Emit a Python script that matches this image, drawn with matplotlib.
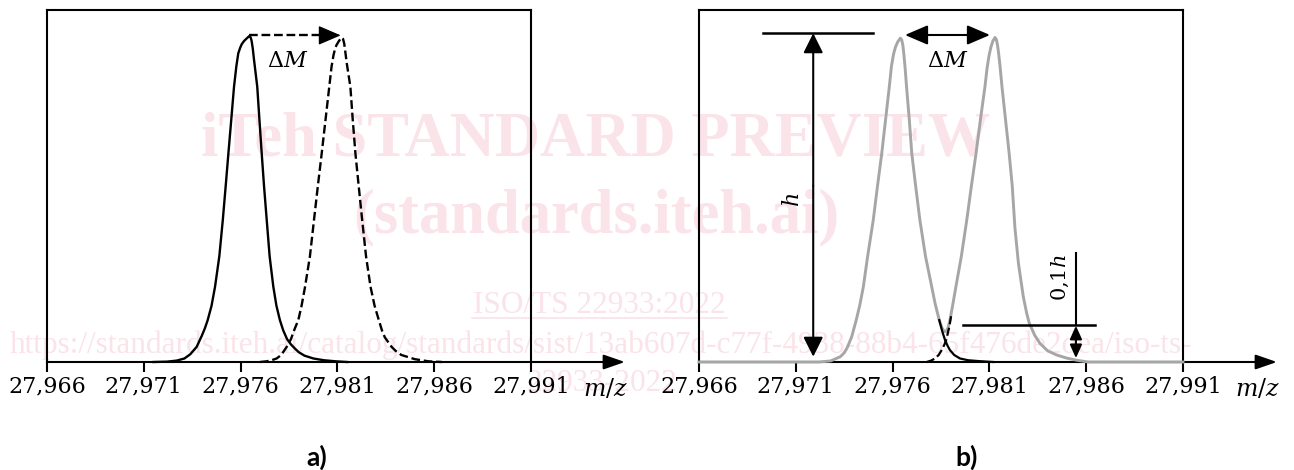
import numpy as np
import matplotlib.pyplot as plt

plt.rcParams['mathtext.fontset'] = 'dejavuserif'
plt.rcParams['font.family'] = 'DejaVu Serif'

# axis ticks
tick_vals = [27.966, 27.971, 27.976, 27.981, 27.986, 27.991]
tick_labels = ['27,966', '27,971', '27,976', '27,981', '27,986', '27,991']

# panel a) - first peak (solid)
mz_a1 = [27.9715, 27.9722, 27.9727, 27.9731, 27.9734, 27.97373, 27.9740, 27.97415,
         27.9743, 27.9745, 27.97468, 27.9749, 27.97508, 27.97523, 27.97537, 27.97552,
         27.97566, 27.97578, 27.97588, 27.97598, 27.97606, 27.97618, 27.97631, 27.97645,
         27.97652, 27.97657, 27.97663, 27.97669, 27.97686, 27.97697, 27.97709, 27.97721,
         27.97735, 27.9775, 27.97769, 27.97785, 27.97803, 27.9782, 27.9784, 27.9786,
         27.97881, 27.979, 27.9793, 27.97976, 27.9803, 27.9809, 27.9815]
int_a1 = [0.0, 0.001, 0.004, 0.01, 0.022, 0.043, 0.075, 0.095,
          0.119, 0.16, 0.214, 0.30, 0.403, 0.50, 0.593, 0.69,
          0.782, 0.84, 0.877, 0.893, 0.903, 0.912, 0.919, 0.926,
          0.922, 0.912, 0.89, 0.86, 0.782, 0.69, 0.593, 0.50,
          0.403, 0.30, 0.214, 0.16, 0.119, 0.09, 0.065, 0.05,
          0.038, 0.028, 0.018, 0.01, 0.005, 0.002, 0.0]

# panel a) - second peak (dashed)
mz_a2 = [27.9770, 27.97735, 27.9776, 27.97786, 27.9781, 27.97838, 27.9786, 27.9788,
         27.97898, 27.97915, 27.97933, 27.97958, 27.97979, 27.97999, 27.98019, 27.98039,
         27.98058, 27.9807, 27.9808, 27.98088, 27.98095, 27.98108, 27.98122, 27.98129,
         27.98135, 27.9814, 27.98148, 27.98167, 27.98179, 27.98193, 27.9821, 27.98228,
         27.98248, 27.98271, 27.98292, 27.98314, 27.9833, 27.98345, 27.9838, 27.984,
         27.9843, 27.9850, 27.9857, 27.9864]
int_a2 = [0.0, 0.002, 0.005, 0.01, 0.02, 0.043, 0.065, 0.095,
          0.119, 0.16, 0.214, 0.30, 0.403, 0.50, 0.593, 0.69,
          0.782, 0.84, 0.872, 0.89, 0.90, 0.912, 0.922, 0.918,
          0.905, 0.885, 0.85, 0.782, 0.69, 0.593, 0.50, 0.403,
          0.30, 0.214, 0.16, 0.119, 0.09, 0.07, 0.043, 0.032,
          0.02, 0.008, 0.002, 0.0]

# panel b) - measured envelope (grey)
mz_b = [27.9660, 27.9722, 27.9728, 27.9733, 27.9735, 27.97365, 27.97389, 27.97412,
        27.9743, 27.97449, 27.97471, 27.9750, 27.97522, 27.97544, 27.97564, 27.97583,
        27.97594, 27.97605, 27.97615, 27.97627, 27.9764, 27.97647, 27.97653, 27.97658,
        27.97664, 27.97672, 27.97686, 27.97699, 27.97719, 27.97741, 27.9777, 27.97802,
        27.9782, 27.97841, 27.97855, 27.97865, 27.97871, 27.97877, 27.97886, 27.97896,
        27.9791, 27.97927, 27.97955, 27.97983, 27.98007, 27.98031, 27.98054, 27.98077,
        27.98088, 27.98098, 27.98108, 27.98118, 27.98129, 27.98136, 27.98142, 27.98148,
        27.98155, 27.98165, 27.98183, 27.98202, 27.98218, 27.98232, 27.9825, 27.98275,
        27.98292, 27.98306, 27.98335, 27.98361, 27.984, 27.98447, 27.985, 27.98551,
        27.9861, 27.9910]
int_b = [0.0, 0.0, 0.003, 0.015, 0.026, 0.04, 0.072, 0.119,
         0.16, 0.214, 0.30, 0.403, 0.50, 0.593, 0.69, 0.782,
         0.84, 0.875, 0.895, 0.91, 0.92, 0.915, 0.90, 0.875,
         0.84, 0.782, 0.69, 0.593, 0.50, 0.403, 0.30, 0.214,
         0.165, 0.119, 0.097, 0.088, 0.086, 0.088, 0.097, 0.119,
         0.16, 0.214, 0.30, 0.403, 0.50, 0.593, 0.69, 0.782,
         0.835, 0.87, 0.895, 0.912, 0.922, 0.916, 0.90, 0.875,
         0.84, 0.782, 0.69, 0.593, 0.50, 0.38, 0.28, 0.186,
         0.14, 0.11, 0.075, 0.053, 0.032, 0.02, 0.011, 0.005,
         0.0, 0.0]

# panel b) - visible tails of the single peaks
mz_b1 = [27.97841, 27.97856, 27.97871, 27.97885, 27.97896, 27.97918, 27.97948, 27.9799, 27.98034, 27.9812]
int_b1 = [0.119, 0.088, 0.062, 0.045, 0.034, 0.02, 0.01, 0.005, 0.003, 0.0]
mz_b2 = [27.97776, 27.97799, 27.97819, 27.97838, 27.97855, 27.97868, 27.97878, 27.97893, 27.97902]
int_b2 = [0.0, 0.004, 0.01, 0.02, 0.035, 0.05, 0.065, 0.10, 0.13]

W, H = 1294, 470
fig = plt.figure(figsize=(W / 100, H / 100), dpi=100)

# watermark
pink = '#fae3e9'
wm = dict(color=pink, family='Liberation Serif', zorder=-5)
fig.text(596 / W, 1 - 155 / H, 'iTeh STANDARD PREVIEW', ha='center', va='baseline',
         fontsize=45, fontweight='bold', **wm)
fig.text(596 / W, 1 - 232 / H, '(standards.iteh.ai)', ha='center', va='baseline',
         fontsize=45, fontweight='bold', **wm)
fig.text(599 / W, 1 - 313 / H, 'ISO/TS 22933:2022', ha='center', va='baseline',
         fontsize=22.5, **wm)
fig.add_artist(plt.Line2D([472 / W, 727 / W], [1 - 318 / H, 1 - 318 / H], color=pink, lw=1.2, zorder=-5))
fig.text(10 / W, 1 - 353 / H,
         'https://standards.iteh.ai/catalog/standards/sist/13ab607d-c77f-4938-88b4-65f476de2dea/iso-ts-',
         ha='left', va='baseline', fontsize=22.5, **wm)
fig.text(527 / W, 1 - 391 / H, '22933-2022', ha='left', va='baseline', fontsize=22.5, **wm)


def panel(x0):
    ax = fig.add_axes([x0 / W, (H - 362) / H, 484 / W, 352 / H])
    ax.set_facecolor('none')
    ax.set_xlim(tick_vals[0], tick_vals[-1])
    ax.set_ylim(0, 1)
    for s in ax.spines.values():
        s.set_linewidth(1.5)
    ax.set_xticks(tick_vals)
    ax.set_xticklabels(tick_labels, fontsize=16)
    ax.tick_params(axis='x', direction='out', length=7, width=1.5, pad=2.5)
    ax.set_yticks([])
    ax.annotate('', xy=(1.194, 0), xytext=(1.0, 0), xycoords='axes fraction',
                arrowprops=dict(arrowstyle='-|>,head_length=13,head_width=4.5', mutation_scale=1,
                                lw=1.5, color='k', shrinkA=0, shrinkB=0),
                annotation_clip=False)
    ax.text(1.153, -0.076, '$m/z$', transform=ax.transAxes, ha='center', va='center', fontsize=17)
    return ax


def arrow(ax, p0, p1, style, hl, hw, lw=1.5):
    ax.annotate('', xy=p1, xytext=p0,
                arrowprops=dict(arrowstyle='%s,head_length=%g,head_width=%g' % (style, hl, hw),
                                mutation_scale=1, lw=lw, color='k', shrinkA=0, shrinkB=0),
                annotation_clip=False)


# ---- a)
ax1 = panel(47)
ax1.plot(mz_a1, int_a1, color='k', lw=1.7, clip_on=False)
ax1.plot(mz_a2, int_a2, color='k', lw=1.7, ls='--', clip_on=False)
i1, i2 = np.argmax(int_a1), np.argmax(int_a2)
ya = int_a1[i1] + 0.002
ax1.plot([mz_a1[i1], mz_a2[i2] - 0.00103], [ya, ya], color='k', lw=1.7, ls='--')
arrow(ax1, (mz_a2[i2] - 0.00103, ya), (mz_a2[i2] - 0.00005, ya), '-|>', 14, 6, lw=1)
ax1.text(0.5 * (mz_a1[i1] + mz_a2[i2]) - 0.0004, 0.855, r'$\Delta M$', ha='center', va='center', fontsize=16)
fig.text(317 / W, 1 - 457 / H, 'a)', ha='center', va='center', fontsize=19,
         fontweight='bold', family='Lato')

# ---- b)
ax2 = panel(699)
ax2.plot(mz_b, int_b, color='#a6a6a6', lw=2.1, clip_on=False, zorder=3)
ax2.plot(mz_b1, int_b1, color='k', lw=1.6, clip_on=False, zorder=4)
ax2.plot(mz_b2, int_b2, color='k', lw=1.6, ls='--', clip_on=False, zorder=4)
half = len(int_b) // 2
j1 = int(np.argmax(int_b[:half]))
j2 = half + int(np.argmax(int_b[half:]))
h_level = 0.934
# h arrow
ax2.plot([27.96932, 27.9750], [h_level, h_level], color='k', lw=1.8)
arrow(ax2, (27.9719, 0.5), (27.9719, h_level), '-|>', 12, 6)
arrow(ax2, (27.9719, 0.5), (27.9719, 0.015), '-|>', 12, 6)
ax2.text(27.97085, 0.46, '$h$', rotation=90, ha='center', va='center', fontsize=16)
# delta M arrow
yb = 0.929
arrow(ax2, (mz_b[j1] + 0.00024, yb), (mz_b[j2] - 0.00026, yb), '<|-|>', 14, 6)
ax2.text(0.5 * (mz_b[j1] + mz_b[j2]), 0.855, r'$\Delta M$', ha='center', va='center', fontsize=16)
# 0,1h marker
ax2.plot([27.97966, 27.98646], [0.105, 0.105], color='k', lw=1.8, zorder=5)
ax2.plot([27.98547, 27.98547], [0.105, 0.31], color='k', lw=1.5, zorder=5)
arrow(ax2, (27.98547, 0.055), (27.98547, 0.103), '-|>', 8, 3.6)
arrow(ax2, (27.98547, 0.055), (27.98547, 0.011), '-|>', 8, 3.6)
ax2.text(27.98469, 0.24, '$0{,}1h$', rotation=90, ha='center', va='center', fontsize=15)
fig.text(967 / W, 1 - 457 / H, 'b)', ha='center', va='center', fontsize=19,
         fontweight='bold', family='Lato')

fig.savefig('out.png', dpi=100)
